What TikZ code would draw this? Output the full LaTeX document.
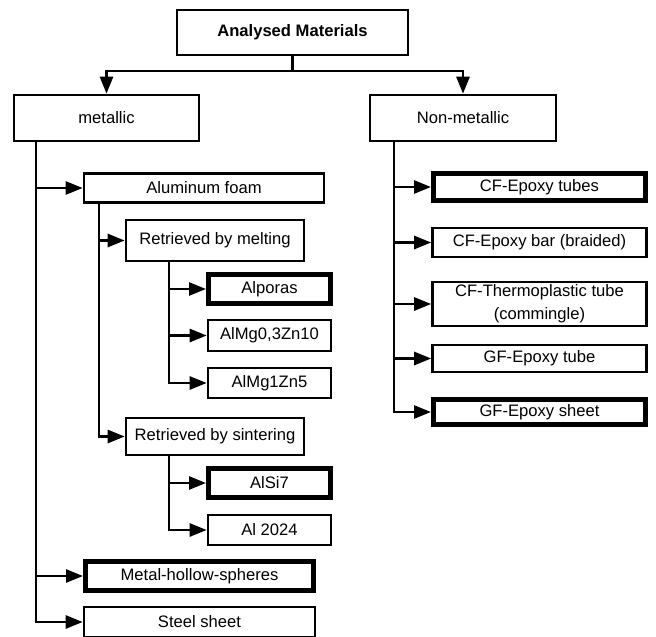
\documentclass[tikz,border=0pt]{standalone}
\usepackage{fontspec}
\setmainfont{Liberation Sans}
\usetikzlibrary{arrows.meta}

\begin{document}
\begin{tikzpicture}[x=1pt, y=-1pt,
  box/.style={draw, line width=2.6pt, inner sep=0pt, align=center, font=\fontsize{16.6}{23}\selectfont},
  bold box/.style={box, line width=5pt},
  link/.style={line width=2.6pt},
  arr/.style={link, -{Triangle[length=17pt, width=13pt]}}]
\useasboundingbox (0,0) rectangle (656,637);
\clip (0,0) rectangle (656,637);

\node (A) at (292.5,32.5) [box, minimum width=231pt, minimum height=45pt, font=\fontsize{16.6}{23}\selectfont\bfseries] {Analysed Materials};
\node (M) at (106.5,118) [box, minimum width=185pt, minimum height=46pt] {metallic};
\node (N) at (463,118) [box, minimum width=186pt, minimum height=46pt] {Non-metallic};

\node (M1) at (204,188) [box, minimum width=240pt, minimum height=29pt] {Aluminum foam};
\node (M11) at (215,240.5) [box, minimum width=178pt, minimum height=41pt] {Retrieved by melting};
\node (M111) at (269.5,289) [bold box, minimum width=122pt, minimum height=29pt] {Alporas};
\node (M112) at (269.5,335.5) [box, minimum width=123pt, minimum height=31pt] {AlMg0,3Zn10};
\node (M113) at (269.5,383) [box, minimum width=123pt, minimum height=30pt] {AlMg1Zn5};
\node (M12) at (215,436.5) [box, minimum width=178pt, minimum height=37pt] {Retrieved by sintering};
\node (M121) at (269.5,483) [bold box, minimum width=122pt, minimum height=29pt] {AlSi7};
\node (M122) at (269.5,530) [box, minimum width=123pt, minimum height=30pt] {Al 2024};
\node (M2) at (199.5,576) [bold box, minimum width=228pt, minimum height=29pt] {Metal-hollow-spheres};
\node (M3) at (199.5,622) [box, minimum width=231pt, minimum height=30pt] {Steel sheet};

\node (N1) at (539.5,187) [bold box, minimum width=212pt, minimum height=27pt] {CF-Epoxy tubes};
\node (N2) at (539.5,242.5) [box, minimum width=214pt, minimum height=29pt] {CF-Epoxy bar (braided)};
\node (N3) at (539.5,304) [box, minimum width=214pt, minimum height=44pt] {CF-Thermoplastic tube\\(commingle)};
\node (N4) at (539.5,358.5) [box, minimum width=214pt, minimum height=27pt] {GF-Epoxy tube};
\node (N5) at (539.5,412) [bold box, minimum width=212pt, minimum height=25pt] {GF-Epoxy sheet};

\coordinate (J) at (292.5,71);
\coordinate (M0) at (36,141);
\coordinate (M10) at (99,203);
\coordinate (M110) at (169,261);
\coordinate (M120) at (169,455);
\coordinate (N0) at (394,141);

\draw [link] (A) -- (J);
\draw [arr] (J) -| (M);
\draw [arr] (J) -| (N);

\draw [arr] (M0) |- (M1);
\draw [arr] (M0) |- (M2);
\draw [arr] (M0) |- (M3);
\draw [arr] (M10) |- (M11);
\draw [arr] (M10) |- (M12);
\draw [arr] (M110) |- (M111);
\draw [arr] (M110) |- (M112);
\draw [arr] (M110) |- (M113);
\draw [arr] (M120) |- (M121);
\draw [arr] (M120) |- (M122);

\draw [arr] (N0) |- (N1);
\draw [arr] (N0) |- (N2);
\draw [arr] (N0) |- (N3);
\draw [arr] (N0) |- (N4);
\draw [arr] (N0) |- (N5);

\end{tikzpicture}
\end{document}
